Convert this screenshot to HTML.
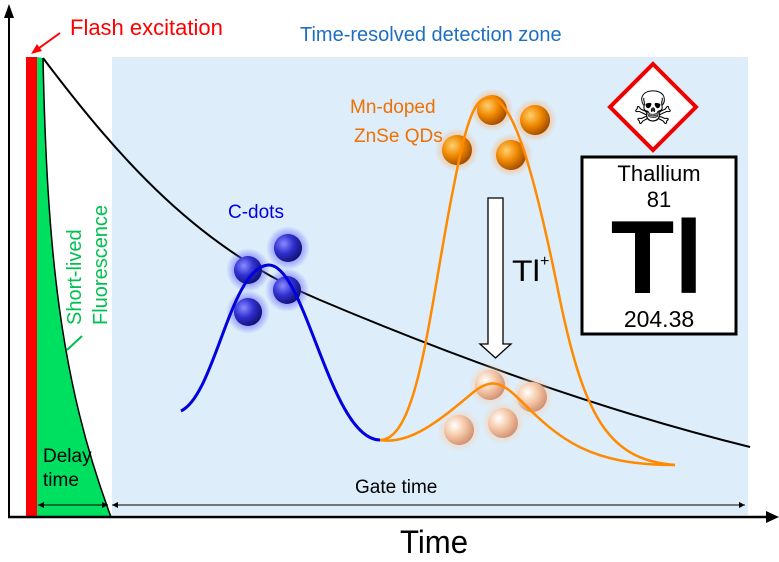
<!DOCTYPE html>
<html><head><style>body{margin:0;background:#fff}svg{display:block}text{font-family:"Liberation Sans",sans-serif}</style></head>
<body>
<svg width="779" height="562" viewBox="0 0 779 562" xmlns="http://www.w3.org/2000/svg">
<defs>
<radialGradient id="gb" cx="0.35" cy="0.35" r="0.7"><stop offset="0" stop-color="#8a8aff"/><stop offset="0.5" stop-color="#3030d0"/><stop offset="1" stop-color="#101070"/></radialGradient>
<radialGradient id="go" cx="0.35" cy="0.35" r="0.7"><stop offset="0" stop-color="#ffd070"/><stop offset="0.5" stop-color="#f08a00"/><stop offset="1" stop-color="#a04a00"/></radialGradient>
<radialGradient id="gp" cx="0.35" cy="0.35" r="0.7"><stop offset="0" stop-color="#fff"/><stop offset="0.5" stop-color="#f5c8a8"/><stop offset="1" stop-color="#d09070"/></radialGradient>
<radialGradient id="hb"><stop offset="0.5" stop-color="#6060ff" stop-opacity="0.7"/><stop offset="1" stop-color="#6060ff" stop-opacity="0"/></radialGradient>
<radialGradient id="ho"><stop offset="0.5" stop-color="#ffa050" stop-opacity="0.6"/><stop offset="1" stop-color="#ffa050" stop-opacity="0"/></radialGradient>
<radialGradient id="hp"><stop offset="0.5" stop-color="#ffc8a0" stop-opacity="0.6"/><stop offset="1" stop-color="#ffc8a0" stop-opacity="0"/></radialGradient>
</defs>
<rect x="112" y="57" width="636" height="458" fill="#ddeefa"/>
<path d="M37,57 L43,58 C47,250 60,380 111,517 L37,517 Z" fill="#00e060"/>
<path d="M43,58 C47,250 60,380 111,517" fill="none" stroke="#000" stroke-width="1.5"/>
<rect x="26" y="57" width="11" height="460" fill="#f00"/>
<line x1="8" y1="517" x2="770" y2="517" stroke="#000" stroke-width="2.5"/>
<path d="M779,517 L766,511 L766,523 Z"/>
<line x1="9" y1="517" x2="9" y2="14" stroke="#000" stroke-width="2"/>
<path d="M9,4 L4,18 L14,18 Z"/>
<path d="M43,58 C120,160 200,250 320,300 C450,355 600,410 750,447" fill="none" stroke="#000" stroke-width="2"/>
<g>
<circle cx="248" cy="270" r="22" fill="url(#hb)"/><circle cx="288" cy="248" r="22" fill="url(#hb)"/><circle cx="287" cy="290" r="22" fill="url(#hb)"/><circle cx="248" cy="312" r="22" fill="url(#hb)"/>
<circle cx="248" cy="270" r="14" fill="url(#gb)"/><circle cx="288" cy="248" r="14" fill="url(#gb)"/><circle cx="287" cy="290" r="14" fill="url(#gb)"/><circle cx="248" cy="312" r="14" fill="url(#gb)"/>
</g>
<path d="M181,411 C215,395 230,268 268,265 C305,262 330,440 380,440" fill="none" stroke="#0000e0" stroke-width="3"/>
<circle cx="492" cy="110" r="22" fill="url(#ho)"/><circle cx="535" cy="120" r="22" fill="url(#ho)"/><circle cx="457" cy="150" r="22" fill="url(#ho)"/><circle cx="511" cy="155" r="22" fill="url(#ho)"/>
<circle cx="492" cy="110" r="15" fill="url(#go)"/><circle cx="535" cy="120" r="15" fill="url(#go)"/><circle cx="457" cy="150" r="15" fill="url(#go)"/><circle cx="511" cy="155" r="15" fill="url(#go)"/>
<circle cx="490" cy="385" r="22" fill="url(#hp)"/><circle cx="532" cy="397" r="22" fill="url(#hp)"/><circle cx="459" cy="430" r="22" fill="url(#hp)"/><circle cx="503" cy="423" r="22" fill="url(#hp)"/>
<circle cx="490" cy="385" r="15" fill="url(#gp)"/><circle cx="532" cy="397" r="15" fill="url(#gp)"/><circle cx="459" cy="430" r="15" fill="url(#gp)"/><circle cx="503" cy="423" r="15" fill="url(#gp)"/>
<path d="M380,440 C420,440 430,300 455,180 C470,100 480,98 490,98 C510,98 530,150 560,300 C585,420 610,460 675,465" fill="none" stroke="#ff8a00" stroke-width="2.5"/>
<path d="M380,440 C410,445 440,420 470,395 C490,378 500,380 520,400 C560,440 590,465 675,465" fill="none" stroke="#ff8a00" stroke-width="2.5"/>
<path d="M488,198 L503,198 L503,344 L511,344 L495.5,358 L480,344 L488,344 Z" fill="#fff" stroke="#000" stroke-width="1.3"/>
<rect x="582" y="157" width="154" height="177" fill="#fff" stroke="#000" stroke-width="3"/>
<text x="659" y="181" font-size="22" text-anchor="middle">Thallium</text>
<text x="659" y="207" font-size="22" text-anchor="middle">81</text>
<text x="657" y="293" font-size="104" font-weight="bold" text-anchor="middle">Tl</text>
<text x="659" y="327" font-size="23" text-anchor="middle">204.38</text>
<path d="M653,64 L696,107 L653,150 L610,107 Z" fill="#fff" stroke="#e00" stroke-width="4"/>
<text x="653" y="124" font-size="46" text-anchor="middle" font-family="DejaVu Sans">☠</text>
<g stroke="#000" stroke-width="1"><line x1="38" y1="505" x2="108" y2="505"/><line x1="112" y1="505" x2="745" y2="505"/></g>
<path d="M38,505 l6,-3 v6 Z M108,505 l-6,-3 v6 Z M112,505 l6,-3 v6 Z M745,505 l-6,-3 v6 Z"/>
<line x1="60" y1="33" x2="35" y2="51" stroke="#f00" stroke-width="2"/>
<path d="M31,54 L37,44 L42,51 Z" fill="#f00"/>
<text x="70" y="35" font-size="22" fill="#f00">Flash excitation</text>
<text x="300" y="41" font-size="20" fill="#1e6fc0">Time-resolved detection zone</text>
<text x="228" y="218" font-size="19" fill="#0000e0">C-dots</text>
<text x="350" y="113" font-size="19" fill="#f07000">Mn-doped</text>
<text x="354" y="142" font-size="19" fill="#f07000">ZnSe QDs</text>
<text x="512" y="281" font-size="30" textLength="28" lengthAdjust="spacingAndGlyphs">Tl</text><text x="540" y="266" font-size="16">+</text>
<text transform="translate(81,325) rotate(-90)" font-size="20" fill="#00c050">Short-lived</text>
<text transform="translate(107,325) rotate(-90)" font-size="20" fill="#00c050">Fluorescence</text>
<line x1="67" y1="350" x2="82" y2="336" stroke="#00c050" stroke-width="2"/>
<text x="43" y="462" font-size="19">Delay</text>
<text x="43" y="486" font-size="19">time</text>
<text x="355" y="493" font-size="19">Gate time</text>
<text x="400" y="553" font-size="32" textLength="68" lengthAdjust="spacingAndGlyphs">Time</text>
</svg>
</body></html>
